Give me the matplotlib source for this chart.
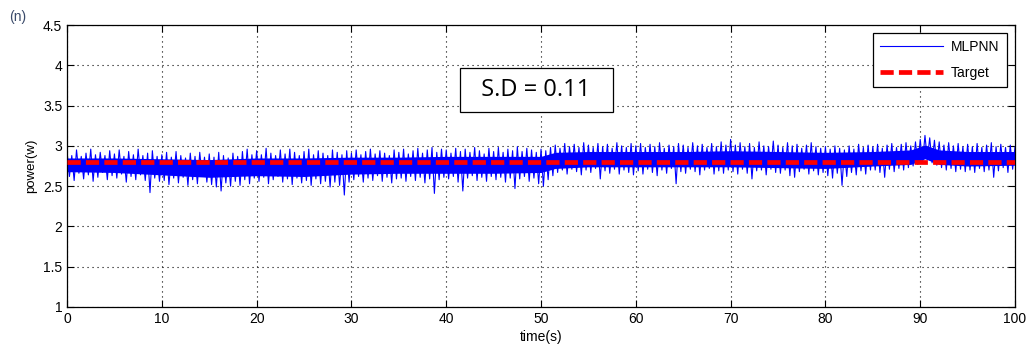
import numpy as np
import matplotlib
matplotlib.use('Agg')
import matplotlib.pyplot as plt

# MLPNN output: alternating peak / trough every 0.25 s
mlpnn = [
    2.93, 2.62, 2.88, 2.57, 2.95, 2.66, 2.87, 2.59, 2.91, 2.64, 2.96, 2.56, 2.89, 2.61, 2.92, 2.67, 2.88, 2.58, 2.94, 2.63,
    2.90, 2.60, 2.95, 2.65, 2.87, 2.55, 2.93, 2.62, 2.89, 2.58, 2.96, 2.64, 2.88, 2.57, 2.91, 2.42, 2.94, 2.60, 2.87, 2.56,
    2.89, 2.57, 2.92, 2.52, 2.86, 2.60, 2.93, 2.54, 2.88, 2.61, 2.85, 2.51, 2.91, 2.58, 2.87, 2.53, 2.92, 2.62, 2.86, 2.55,
    2.90, 2.52, 2.86, 2.49, 2.92, 2.44, 2.88, 2.54, 2.85, 2.50, 2.91, 2.56, 2.87, 2.51, 2.93, 2.58, 2.96, 2.53, 2.89, 2.60,
    2.94, 2.56, 2.89, 2.61, 2.97, 2.53, 2.91, 2.58, 2.88, 2.62, 2.95, 2.55, 2.90, 2.59, 2.96, 2.52, 2.92, 2.60, 2.88, 2.54,
    2.93, 2.57, 2.96, 2.51, 2.89, 2.59, 2.94, 2.53, 2.91, 2.56, 2.88, 2.49, 2.95, 2.55, 2.92, 2.51, 2.89, 2.39, 2.94, 2.55,
    2.91, 2.58, 2.95, 2.62, 2.89, 2.55, 2.93, 2.60, 2.96, 2.57, 2.90, 2.63, 2.94, 2.56, 2.91, 2.61, 2.88, 2.54, 2.95, 2.59,
    2.92, 2.60, 2.96, 2.56, 2.90, 2.62, 2.94, 2.57, 2.97, 2.61, 2.91, 2.54, 2.95, 2.59, 2.98, 2.41, 2.92, 2.58, 2.96, 2.61,
    2.95, 2.59, 2.91, 2.62, 2.97, 2.55, 2.93, 2.44, 2.96, 2.60, 2.92, 2.63, 2.98, 2.57, 2.94, 2.61, 2.90, 2.56, 2.97, 2.62,
    2.93, 2.58, 2.98, 2.61, 2.92, 2.55, 2.96, 2.60, 2.94, 2.47, 2.99, 2.59, 2.93, 2.62, 2.97, 2.56, 2.95, 2.60, 2.92, 2.53,
    2.96, 2.50, 2.94, 2.58, 2.98, 2.63, 3.01, 2.67, 2.97, 2.70, 3.03, 2.65, 2.99, 2.71, 3.02, 2.68, 2.98, 2.64, 3.04, 2.70,
    3.01, 2.67, 2.98, 2.72, 3.03, 2.59, 2.99, 2.69, 3.02, 2.66, 2.97, 2.71, 3.04, 2.65, 3.00, 2.70, 2.98, 2.67, 3.03, 2.64,
    3.00, 2.69, 3.03, 2.65, 2.98, 2.71, 3.02, 2.67, 2.99, 2.63, 3.04, 2.70, 2.97, 2.66, 3.01, 2.72, 2.99, 2.53, 3.03, 2.68,
    3.01, 2.66, 2.98, 2.71, 3.04, 2.68, 3.00, 2.64, 3.02, 2.70, 2.98, 2.72, 3.03, 2.65, 2.99, 2.69, 3.05, 2.66, 3.01, 2.70,
    3.08, 2.68, 3.01, 2.65, 3.04, 2.71, 2.99, 2.66, 3.03, 2.59, 2.98, 2.69, 3.05, 2.70, 3.00, 2.64, 2.99, 2.71, 3.06, 2.67,
    3.01, 2.66, 2.98, 2.70, 3.04, 2.63, 3.00, 2.61, 3.02, 2.68, 2.97, 2.71, 3.01, 2.65, 3.04, 2.69, 2.99, 2.64, 2.97, 2.67,
    2.99, 2.63, 2.96, 2.60, 3.00, 2.66, 2.97, 2.51, 2.95, 2.62, 3.00, 2.67, 2.96, 2.64, 3.02, 2.69, 2.98, 2.65, 3.01, 2.70,
    2.99, 2.70, 3.02, 2.67, 2.97, 2.61, 3.01, 2.71, 3.03, 2.68, 2.98, 2.72, 3.02, 2.70, 3.04, 2.73, 3.00, 2.75, 3.05, 2.77,
    3.08, 2.80, 3.13, 2.83, 3.10, 2.79, 3.07, 2.76, 3.05, 2.73, 3.01, 2.70, 3.04, 2.72, 3.00, 2.68, 3.03, 2.71, 2.99, 2.68,
    3.02, 2.70, 2.99, 2.67, 3.03, 2.72, 2.98, 2.68, 3.01, 2.70, 3.04, 2.61, 2.99, 2.69, 3.02, 2.73, 2.98, 2.67, 3.01, 2.71,
    2.99,
]
t_step = 0.25

# dense core of the noise band (where the trace is solid blue)
core_t = [0, 5, 10, 15, 20, 25, 30, 35, 40, 45, 50, 51.5, 55, 60, 65, 70, 75, 80, 85, 89, 90.5, 92, 95, 100]
core_hi = [2.85, 2.85, 2.84, 2.83, 2.85, 2.85, 2.86, 2.86, 2.87, 2.87, 2.87, 2.92, 2.93, 2.93, 2.93, 2.94, 2.93,
           2.92, 2.93, 2.95, 3.01, 2.95, 2.93, 2.93]
core_lo = [2.68, 2.67, 2.64, 2.61, 2.63, 2.62, 2.65, 2.66, 2.66, 2.66, 2.67, 2.72, 2.74, 2.74, 2.74, 2.74, 2.73,
           2.72, 2.75, 2.77, 2.84, 2.77, 2.75, 2.76]

target_t = [0, 100]
target_val = [2.8, 2.8]
sd_text = '  S.D = 0.11  '

t = np.arange(len(mlpnn)) * t_step

plt.rcParams['font.family'] = ['Liberation Sans', 'DejaVu Sans']

fig = plt.figure(figsize=(10.33, 3.58), dpi=100)
ax = fig.add_axes([0.0649, 0.1425, 0.9177, 0.7875])

ax.fill_between(core_t, core_lo, core_hi, color='#0000ff', lw=0, zorder=2)
ax.plot(t, mlpnn, color='#0000ff', lw=0.8, label='MLPNN', zorder=2)
ax.plot(target_t, target_val, color='#ff0000', lw=3.4, ls=(0, (2.8, 1.1)),
        dash_capstyle='butt', label='Target', zorder=3)

ax.set_xlim(0, 100)
ax.set_ylim(1, 4.5)
ax.set_xticks(np.arange(0, 101, 10))
ax.set_yticks([1, 1.5, 2, 2.5, 3, 3.5, 4, 4.5])
ax.set_yticklabels(['1', '1.5', '2', '2.5', '3', '3.5', '4', '4.5'])
ax.grid(True, color='black', ls=(0, (1, 3.5)), lw=0.8)
ax.tick_params(direction='in', top=True, right=True, length=5, labelsize=10, width=0.8)
for s in ax.spines.values():
    s.set_linewidth(0.9)

ax.set_xlabel('time(s)', fontsize=10, labelpad=3)
ax.set_ylabel('power(w)', fontsize=9.5, labelpad=4)

leg = ax.legend(loc='upper right', fontsize=10, fancybox=False, framealpha=1,
                edgecolor='black', borderaxespad=0.6, handlelength=4.5,
                borderpad=0.5, labelspacing=0.85, handletextpad=0.6)
leg.get_frame().set_linewidth(0.9)

ax.text(49.5, 3.69, sd_text, fontsize=17, family=['Open Sans', 'DejaVu Sans'],
        ha='center', va='center',
        bbox=dict(boxstyle='square,pad=0.42', fc='white', ec='black', lw=0.9))

fig.text(0.009, 0.94, '(n)', fontsize=10, color='#3a4a6a')

fig.savefig('out.png', dpi=100)
